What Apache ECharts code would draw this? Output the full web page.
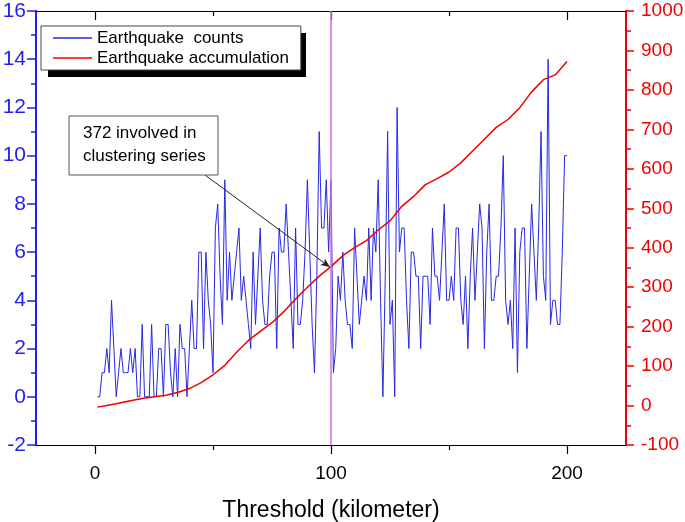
<!DOCTYPE html>
<html><head><meta charset="utf-8">
<script src="https://cdn.jsdelivr.net/npm/echarts@6/dist/echarts.min.js"></script>
<style>html,body{margin:0;padding:0;background:#fff}#c{width:685px;height:522px}</style>
</head><body><div id="c"></div>
<script>
// ---- data ----
const kmStart = 1;           // first threshold value (km)
const counts = [
  0,0,1,1,2,1,4,2,0,1, 2,1,1,1,2,1,2,0,0,3, 0,0,
  0,3,0,0,2,2,0,3,3,1, 0,2,0,3,2,2,0,2,4,2, 2,6,6,2,6,4,
  3,1,7,8,5,3,9,4,6,4, 5,6,7,4,5,4,3,2,6,3, 5,7,4,3,3,
  5,6,6,2,7,6,6,8,6,4, 2,7,3,3,4,6,9,6,3,1, 5,11,7,7,9,6,
  9,
  1,2,5,4,6,4,3,3,2,7, 5,3,4,5,4,7,4,7,6,9, 4,0,5,11,
  3,4,0,12,6,7,7,4,2,6, 6,5,5,2,5,5,5,3,7,5, 5,4,6,8,4,4,
  5,4,7,7,4,3,5,2,5,7, 4,6,8,7,2,6,8,4,4,5, 5,7,10,4,3,
  4,2,7,1,6,7,7,2,5,8, 6,4,7,11,5,4,14,3,4,4, 3,3,6,10,10
];
const accKm   = [1,5,10,15,20,25,30,35,40,45,50,55,60,65,70,75,80,85,90,95,100,105,110,115,120,125,130,135,140,145,150,155,160,165,170,175,180,185,190,195,200];
const accVals = [-4,0,6,12,18,22,26,33,43,58,78,102,135,165,188,210,238,270,300,328,352,380,400,418,445,468,505,530,560,575,592,615,645,675,705,725,755,795,826,838,872];
const xLabelValues = [0, 100, 200];
const xMinorValues = [50, 150];
const markerKm = 100;
const arrowTarget = [99.5, 351];
const legendNames = ['Earthquake  counts', 'Earthquake accumulation'];
const noteLines = ['372 involved in', 'clustering series'];
const xName = 'Threshold (kilometer)';

// ---- build ----
const countData = counts.map((v, i) => [kmStart + i, v]);
const accData = accKm.map((k, i) => [k, accVals[i]]);

const FONT = '"Liberation Sans", Arial, sans-serif';
const BLUE = '#1f1ff0';
const RED = '#f00000';

const chart = echarts.init(document.getElementById('c'), null, {renderer: 'canvas'});

function xAx(pos, vals, len, inside, extra) {
  return Object.assign({
    type: 'value', position: pos, min: -25, max: 225,
    axisLine: {show: true, onZero: false, lineStyle: {color: '#000', width: 1.2}},
    axisTick: {show: true, customValues: vals, length: len, inside: inside, lineStyle: {color: '#000', width: 1.2}},
    axisLabel: {show: false},
    splitLine: {show: false}
  }, extra || {});
}

chart.setOption({
  animation: false,
  backgroundColor: '#fff',
  grid: {left: 36, right: 59, top: 11, bottom: 77, containLabel: false, outerBoundsMode: 'none'},
  legend: {
    orient: 'vertical', left: 41, top: 26, z: 10,
    data: legendNames.map(n => ({name: n, icon: 'rect'})),
    backgroundColor: '#fff', borderColor: '#444', borderWidth: 1,
    padding: [2, 12, 2, 12], itemGap: 0, itemWidth: 39, itemHeight: 1.5,
    textStyle: {fontFamily: FONT, fontSize: 17, color: '#000', lineHeight: 20},
    selectedMode: false
  },
  xAxis: [
    xAx('bottom', xLabelValues, 9, false, {
      axisLabel: {show: true, customValues: xLabelValues, fontFamily: FONT, fontSize: 19, color: '#000', margin: 19},
      name: xName, nameLocation: 'middle', nameGap: 54,
      nameTextStyle: {fontFamily: FONT, fontSize: 23, color: '#000'}
    }),
    xAx('bottom', xMinorValues, 5, false, {axisLine: {show: false, onZero: false}}),
    xAx('top', xLabelValues, 9, true),
    xAx('top', xMinorValues, 5, true, {axisLine: {show: false, onZero: false}})
  ],
  yAxis: [
    {
      type: 'value', position: 'left', min: -2, max: 16, interval: 2,
      axisLine: {show: true, onZero: false, lineStyle: {color: BLUE, width: 2}},
      axisTick: {show: true, length: 9, inside: false, lineStyle: {color: BLUE, width: 1.5}},
      minorTick: {show: true, splitNumber: 2, length: 5, lineStyle: {color: BLUE, width: 1.5}},
      axisLabel: {fontFamily: FONT, fontSize: 21, color: BLUE, margin: 10},
      splitLine: {show: false}
    },
    {
      type: 'value', position: 'right', min: -100, max: 1000, interval: 100,
      axisLine: {show: true, onZero: false, lineStyle: {color: RED, width: 2}},
      axisTick: {show: true, length: 8, inside: false, lineStyle: {color: RED, width: 1.5}},
      minorTick: {show: true, splitNumber: 2, length: 5, lineStyle: {color: RED, width: 1.5}},
      axisLabel: {fontFamily: FONT, fontSize: 19, color: RED, margin: 15, formatter: v => String(v)},
      splitLine: {show: false}
    }
  ],
  series: [
    {
      name: legendNames[0], type: 'line', xAxisIndex: 0, yAxisIndex: 0,
      data: countData, symbol: 'none', z: 3,
      lineStyle: {color: '#2828e0', width: 1},
      itemStyle: {color: '#2828e0'},
      markLine: {
        silent: true, symbol: ['none', 'none'], label: {show: false},
        lineStyle: {color: '#d070d0', width: 1.5, type: 'solid'},
        data: [{xAxis: markerKm}]
      }
    },
    {
      name: legendNames[1], type: 'line', xAxisIndex: 0, yAxisIndex: 1,
      data: accData, symbol: 'none', z: 4,
      lineStyle: {color: RED, width: 1.5},
      itemStyle: {color: RED},
      markLine: {
        silent: true, symbol: ['none', 'arrow'], symbolSize: [6, 9], label: {show: false},
        lineStyle: {color: '#222', width: 1, type: 'solid'},
        data: [[{x: 205, y: 175}, {coord: arrowTarget}]]
      }
    }
  ],
  graphic: [
    {type: 'rect', z: 5, shape: {x: 48, y: 33, width: 258, height: 44}, style: {fill: '#000'}},
    {type: 'rect', z: 10, shape: {x: 69, y: 116, width: 149, height: 59}, style: {fill: '#fff', stroke: '#555', lineWidth: 1}},
    {type: 'text', z: 11, x: 83, y: 133, style: {text: noteLines[0], font: '17px ' + FONT, fill: '#000', verticalAlign: 'middle'}},
    {type: 'text', z: 11, x: 83, y: 156, style: {text: noteLines[1], font: '17px ' + FONT, fill: '#000', verticalAlign: 'middle'}}
  ]
});
</script></body></html>
